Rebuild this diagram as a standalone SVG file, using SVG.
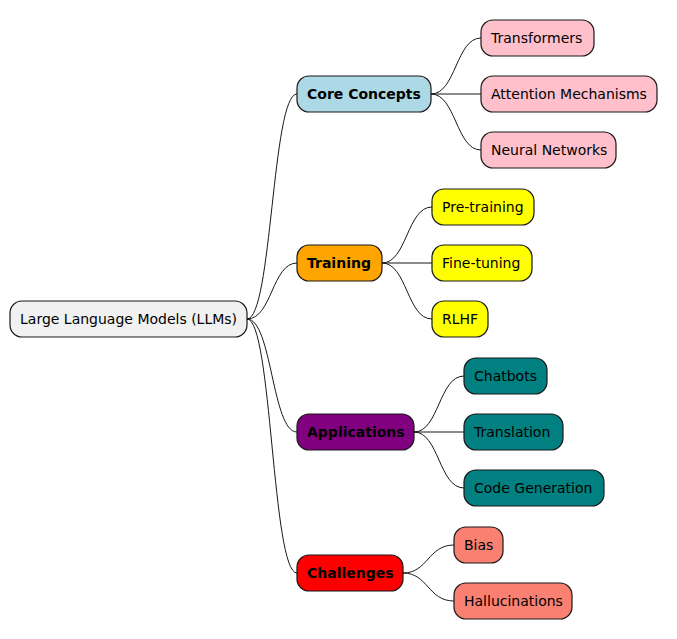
<svg xmlns="http://www.w3.org/2000/svg" width="677" height="639" viewBox="0 0 677 639">
<style>
rect{stroke:#181818;stroke-width:1.2}
text{font-family:"DejaVu Sans",sans-serif;font-size:14px;fill:#000}
.b{font-weight:bold}
#edges path{fill:none;stroke:#181818;stroke-width:1}
</style>
<rect width="677" height="639" fill="#fff" style="stroke:none"/>
<g id="edges">
<path d="M247,319 C272,319 272,94 297,94"/>
<path d="M247,319 C272,319 272,263 297,263"/>
<path d="M247,319 C272,319 272,432 297,432"/>
<path d="M247,319 C272,319 272,573 297,573"/>
<path d="M431,94 C456,94 456,38 481,38"/>
<path d="M431,94 L481,94"/>
<path d="M431,94 C456,94 456,150 481,150"/>
<path d="M382,263 C407,263 407,207 432,207"/>
<path d="M382,263 L432,263"/>
<path d="M382,263 C407,263 407,319 432,319"/>
<path d="M414,432 C439,432 439,376 464,376"/>
<path d="M414,432 L464,432"/>
<path d="M414,432 C439,432 439,488 464,488"/>
<path d="M403,573 C428,573 428,545 454,545"/>
<path d="M403,573 C428,573 428,601 454,601"/>
</g>
<g id="root"><rect x="10" y="301" width="237" height="36" rx="12" fill="#F1F1F1"/><text x="20" y="324">Large Language Models (LLMs)</text></g>
<g id="core"><rect x="297" y="76" width="134" height="36" rx="12" fill="#ADD8E6"/><text class="b" x="307" y="99">Core Concepts</text></g>
<g id="transformers"><rect x="481" y="20" width="113" height="36" rx="12" fill="#FFC0CB"/><text x="491" y="43">Transformers</text></g>
<g id="attention"><rect x="481" y="76" width="176" height="36" rx="12" fill="#FFC0CB"/><text x="491" y="99">Attention Mechanisms</text></g>
<g id="neural"><rect x="481" y="132" width="135" height="36" rx="12" fill="#FFC0CB"/><text x="491" y="155">Neural Networks</text></g>
<g id="training"><rect x="297" y="245" width="85" height="36" rx="12" fill="#FFA500"/><text class="b" x="307" y="268">Training</text></g>
<g id="pretraining"><rect x="432" y="189" width="102" height="36" rx="12" fill="#FFFF00"/><text x="442" y="212">Pre-training</text></g>
<g id="finetuning"><rect x="432" y="245" width="100" height="36" rx="12" fill="#FFFF00"/><text x="442" y="268">Fine-tuning</text></g>
<g id="rlhf"><rect x="432" y="301" width="56" height="36" rx="12" fill="#FFFF00"/><text x="442" y="324">RLHF</text></g>
<g id="applications"><rect x="297" y="414" width="117" height="36" rx="12" fill="#800080"/><text class="b" x="307" y="437">Applications</text></g>
<g id="chatbots"><rect x="464" y="358" width="83" height="36" rx="12" fill="#008080"/><text x="474" y="381">Chatbots</text></g>
<g id="translation"><rect x="464" y="414" width="99" height="36" rx="12" fill="#008080"/><text x="474" y="437">Translation</text></g>
<g id="codegen"><rect x="464" y="470" width="140" height="36" rx="12" fill="#008080"/><text x="474" y="493">Code Generation</text></g>
<g id="challenges"><rect x="297" y="555" width="106" height="36" rx="12" fill="#FF0000"/><text class="b" x="307" y="578">Challenges</text></g>
<g id="bias"><rect x="454" y="527" width="49" height="36" rx="12" fill="#FA8072"/><text x="464" y="550">Bias</text></g>
<g id="hallucinations"><rect x="454" y="583" width="118" height="36" rx="12" fill="#FA8072"/><text x="464" y="606">Hallucinations</text></g>
</svg>
